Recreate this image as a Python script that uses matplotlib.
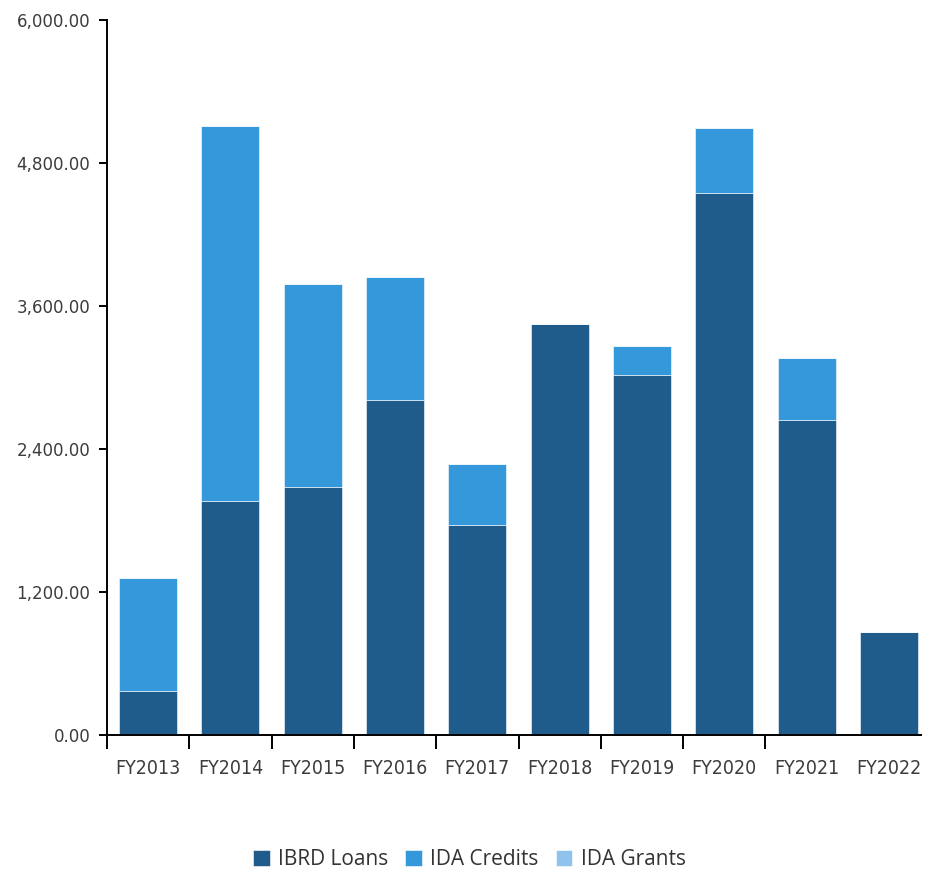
import numpy as np
import matplotlib.pyplot as plt

# fiscal years and commitment amounts
years = ["FY2013", "FY2014", "FY2015", "FY2016", "FY2017",
         "FY2018", "FY2019", "FY2020", "FY2021", "FY2022"]
ibrd_loans = [370, 1969, 2086, 2814, 1767, 3449, 3021, 4551, 2646, 864]
ida_credits = [950, 3138, 1701, 1029, 510, 0, 248, 545, 517, 0]
ida_grants = [0, 0, 0, 0, 0, 0, 0, 0, 0, 0]

series_names = ["IBRD Loans", "IDA Credits", "IDA Grants"]
colors = ["#1f5c8b", "#3598db", "#8fc3ee"]

fig = plt.figure(figsize=(9.33, 8.73), dpi=100)
ax = fig.add_axes([0.1147, 0.1577, 0.9968 - 0.1147, 0.9771 - 0.1577])

x = np.arange(len(years))
bottom = np.zeros(len(years))
handles = []
for name, vals, c in zip(series_names, [ibrd_loans, ida_credits, ida_grants], colors):
    vals = np.array(vals, dtype=float)
    b = ax.bar(x, vals, width=0.705, bottom=bottom, color=c,
               edgecolor="#ffffff", linewidth=0.4, label=name)
    bottom = bottom + vals
    handles.append(b)

ax.set_xlim(-0.5, 9.5)
ax.set_ylim(0, 6000)

# axes styling
for s in ["top", "right"]:
    ax.spines[s].set_visible(False)
ax.spines["left"].set_linewidth(1.4)
ax.spines["bottom"].set_linewidth(1.4)
ax.spines["bottom"].set_bounds(-0.5, 9.39)

ax.set_yticks([0, 1200, 2400, 3600, 4800, 6000])
ax.set_yticklabels([f"{v:,.2f}" for v in [0, 1200, 2400, 3600, 4800, 6000]])
ax.tick_params(axis="y", length=6, width=1.4, pad=6, labelsize=13.3,
               labelcolor="#3c3c3c")

ax.set_xticks(x)
ax.set_xticklabels(years)
ax.tick_params(axis="x", which="major", length=0, pad=17, labelsize=14,
               labelcolor="#3c3c3c")
ax.set_xticks(np.arange(len(years) - 1) - 0.5, minor=True)
ax.tick_params(axis="x", which="minor", length=10, width=1.4)

# narrow face for the axis labels
for lab in ax.get_xticklabels() + ax.get_yticklabels():
    lab.set_family("DejaVu Sans")
    lab.set_stretch("condensed")

leg = fig.legend(handles=handles, labels=series_names, loc="center",
                 bbox_to_anchor=(0.503, 0.015), ncol=3, frameon=False,
                 prop={"family": ["Open Sans", "DejaVu Sans"], "size": 15},
                 handlelength=0.8, handleheight=0.8, handletextpad=0.4,
                 columnspacing=0.82)
for t in leg.get_texts():
    t.set_color("#333333")

fig.savefig("out.png", dpi=100)
